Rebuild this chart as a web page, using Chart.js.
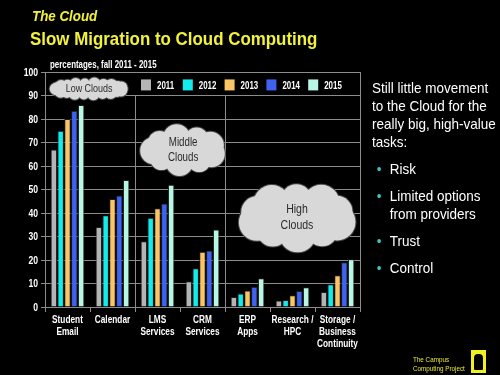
<!DOCTYPE html>
<html>
<head>
<meta charset="utf-8">
<script src="https://cdn.jsdelivr.net/npm/chart.js@4"></script>
<style>
  html, body { margin: 0; padding: 0; background: #000; }
  #page { position: relative; width: 500px; height: 375px; overflow: hidden; background: #000; font-family: "Liberation Sans", Arial, sans-serif; }
  #myChart { position: absolute; left: 0; top: 0; }
  .t1 { position: absolute; left: 32px; top: 9px; color: #f2f23c; font: italic bold 14.5px/14.5px "Liberation Sans", Arial, sans-serif; transform: scaleX(0.92); transform-origin: left top; white-space: nowrap; }
  .t2 { position: absolute; left: 30px; top: 29px; color: #f2f23c; font: bold 19px/19px "Liberation Sans", Arial, sans-serif; transform: scaleX(0.89); transform-origin: left top; white-space: nowrap; }
  .sub { position: absolute; left: 50px; top: 58px; color: #fff; font: bold 11px "Liberation Sans", Arial, sans-serif; transform: scaleX(0.72); transform-origin: left top; white-space: nowrap; }
  .side { position: absolute; left: 372px; top: 79px; width: 136px; color: #fff; font-size: 14.5px; line-height: 18px; transform: scaleX(0.93); transform-origin: left top; }
  .side ul { list-style: none; margin: 9px 0 0 0; padding: 0; }
  .side li { position: relative; padding-left: 19px; margin-bottom: 9px; }
  .side li:before { content: "\2022"; position: absolute; left: 5px; color: #3cc4c4; }
  .logo { position: absolute; left: 413px; top: 356px; color: #e8e830; font-size: 7px; line-height: 8.5px; transform: scaleX(0.9); transform-origin: left top; white-space: nowrap; }
  .badge { position: absolute; left: 471px; top: 350px; width: 15px; height: 23px; background: #f0f020; }
  .badge div { position: absolute; left: 3px; top: 4px; width: 9px; height: 16px; background: #000; border-radius: 4px 4px 1px 1px; }
</style>
</head>
<body>
<div id="page">
  <canvas id="myChart" width="500" height="375"></canvas>
  <div class="t1">The Cloud</div>
  <div class="t2">Slow Migration to Cloud Computing</div>
  <div class="sub">percentages, fall 2011 - 2015</div>
  <div class="side">
    Still little movement to the Cloud for the really big, high-value tasks:
    <ul>
      <li>Risk</li>
      <li>Limited options from providers</li>
      <li>Trust</li>
      <li>Control</li>
    </ul>
  </div>
  <div class="logo">The Campus<br>Computing Project</div>
  <div class="badge"><div></div></div>
</div>
<script>
var categories = [['Student', 'Email'], ['Calendar'], ['LMS', 'Services'], ['CRM', 'Services'], ['ERP', 'Apps'], ['Research /', 'HPC'], ['Storage /', 'Business', 'Continuity']];
var years = ['2011', '2012', '2013', '2014', '2015'];
var values2011 = [67, 34, 28, 11, 4.3, 2.8, 6.4];
var values2012 = [75, 39, 38, 16.5, 5.7, 3, 9.7];
var values2013 = [80, 46, 42, 23.5, 7, 5, 13.5];
var values2014 = [83.5, 47.5, 44, 24, 8.6, 6.8, 19];
var values2015 = [86, 54, 52, 33, 12.2, 8.4, 20.3];
var yearColors = ['#b4b4b4', '#14ecec', '#fbc465', '#3f63f0', '#b8f7e3'];
// clouds: label lines, category position, value position
var cloudLabels = [['Low Clouds'], ['Middle', 'Clouds'], ['High', 'Clouds']];
var cloudX = [0.48, 2.57, 5.1];
var cloudY = [92.8, 66.8, 38.3];

var FONT = '"Liberation Sans", Arial, sans-serif';
var NARROW = 0.72;
var GRID = '#8c8c8c';

function narrowText(ctx, s, x, y, sx) {
    ctx.save();
    ctx.translate(x, y);
    ctx.scale(sx, 1);
    ctx.fillText(s, 0, 0);
    ctx.restore();
}

function drawCloud(ctx, cx, cy, w, h) {
    var rx = w / 2, ry = h / 2;
    var r = Math.min(rx, ry) * 0.5;
    var ex = rx - r, ey = ry - r;
    var per = 2 * Math.PI * Math.sqrt((ex * ex + ey * ey) / 2);
    var n = Math.max(6, Math.ceil(per / (1.3 * r)));
    var circles = [];
    for (var i = 0; i < n; i++) {
        var a = i / n * Math.PI * 2 + 0.3;
        circles.push([cx + ex * Math.cos(a), cy + ey * Math.sin(a), r * (i % 2 ? 0.92 : 1.08)]);
    }
    ctx.save();
    ctx.strokeStyle = '#4a4a4a';
    ctx.lineWidth = 2;
    circles.forEach(function(c) {
        ctx.beginPath(); ctx.arc(c[0], c[1], c[2], 0, Math.PI * 2); ctx.stroke();
    });
    ctx.fillStyle = '#d8d8d8';
    circles.forEach(function(c) {
        ctx.beginPath(); ctx.arc(c[0], c[1], c[2], 0, Math.PI * 2); ctx.fill();
    });
    ctx.beginPath(); ctx.ellipse(cx, cy, ex + 1, ey + 1, 0, 0, Math.PI * 2); ctx.fill();
    ctx.restore();
}

var decoPlugin = {
    id: 'deco',
    beforeDatasetsDraw: function(chart) {
        var ctx = chart.ctx, area = chart.chartArea;
        var x = chart.scales.x, y = chart.scales.y;
        ctx.save();
        ctx.strokeStyle = GRID;
        ctx.lineWidth = 1;
        // right border
        ctx.beginPath();
        ctx.moveTo(Math.round(area.right) + 0.5, area.top);
        ctx.lineTo(Math.round(area.right) + 0.5, area.bottom);
        ctx.stroke();
        // zone separators
        [1.5, 3.5].forEach(function(v) {
            var px = Math.round(x.getPixelForValue(v)) + 0.5;
            ctx.beginPath();
            ctx.moveTo(px, y.getPixelForValue(90));
            ctx.lineTo(px, y.getPixelForValue(0));
            ctx.stroke();
        });
        // narrow tick labels
        ctx.fillStyle = '#fff';
        ctx.font = 'bold 11.5px ' + FONT;
        ctx.textAlign = 'center';
        ctx.textBaseline = 'middle';
        categories.forEach(function(lines, i) {
            var cx = x.getPixelForValue(i);
            lines.forEach(function(s, k) {
                narrowText(ctx, s, cx, area.bottom + 13 + k * 11.7, NARROW);
            });
        });
        ctx.font = 'bold 11px ' + FONT;
        ctx.textAlign = 'right';
        y.ticks.forEach(function(t) {
            narrowText(ctx, String(t.value), area.left - 7, y.getPixelForValue(t.value) + 0.5, 0.78);
        });
        ctx.restore();
    },
    afterDatasetsDraw: function(chart) {
        var ctx = chart.ctx;
        var x = chart.scales.x, y = chart.scales.y;
        var sizes = [[78, 22], [84, 50], [118, 68]];
        var fonts = [11.5, 12.5, 13.5];
        cloudLabels.forEach(function(lines, i) {
            var cx = x.getPixelForValue(cloudX[i]);
            var cy = y.getPixelForValue(cloudY[i]);
            drawCloud(ctx, cx, cy, sizes[i][0], sizes[i][1]);
            ctx.save();
            ctx.fillStyle = '#2a2a2a';
            ctx.font = fonts[i] + 'px ' + FONT;
            ctx.textAlign = 'center';
            ctx.textBaseline = 'middle';
            var lh = fonts[i] * 1.2;
            lines.forEach(function(s, k) {
                narrowText(ctx, s, cx, cy + (k - (lines.length - 1) / 2) * lh, 0.78);
            });
            ctx.restore();
        });
        // legend
        var area = chart.chartArea;
        var ly = y.getPixelForValue(94.5);
        ctx.save();
        ctx.font = 'bold 11px ' + FONT;
        ctx.textBaseline = 'middle';
        chart.data.datasets.forEach(function(ds, i) {
            var lx = area.left + 96 + i * 41.8;
            ctx.fillStyle = ds.backgroundColor;
            ctx.fillRect(lx, ly - 5.5, 10, 11);
            ctx.fillStyle = '#fff';
            narrowText(ctx, ds.label, lx + 16, ly + 1, NARROW);
        });
        ctx.restore();
    }
};

var datasets = [values2011, values2012, values2013, values2014, values2015].map(function(vals, i) {
    return {
        label: years[i],
        data: vals,
        backgroundColor: yearColors[i],
        borderColor: '#1a1a1a',
        borderWidth: 1,
        barPercentage: 0.95,
        categoryPercentage: 0.76
    };
});

new Chart(document.getElementById('myChart'), {
    type: 'bar',
    data: { labels: categories, datasets: datasets },
    plugins: [decoPlugin],
    options: {
        responsive: false,
        animation: false,
        layout: { padding: { top: 72, right: 140, bottom: 0, left: 0 } },
        plugins: { legend: { display: false }, tooltip: { enabled: false } },
        scales: {
            x: {
                afterFit: function(s) { s.height = 68; },
                grid: { display: true, offset: true, drawOnChartArea: false, color: GRID, tickLength: 5 },
                border: { display: true, color: GRID },
                ticks: { display: false, autoSkip: false, maxRotation: 0 }
            },
            y: {
                min: 0,
                max: 100,
                afterFit: function(s) { s.width = 45; },
                grid: { color: GRID, tickLength: 4 },
                border: { display: true, color: GRID },
                ticks: { display: false, stepSize: 10 }
            }
        }
    }
});
</script>
</body>
</html>
